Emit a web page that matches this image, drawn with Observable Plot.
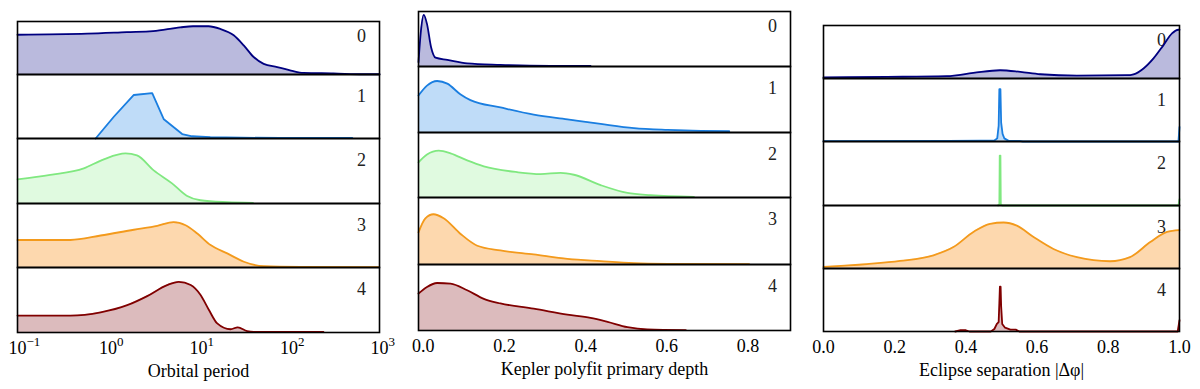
<!DOCTYPE html>
<html><head><meta charset="utf-8">
<script src="https://cdn.jsdelivr.net/npm/d3@7"></script>
<script src="https://cdn.jsdelivr.net/npm/@observablehq/plot@0.6"></script>
<style>
body{margin:0;background:#fff;}
#root{position:relative;width:1200px;height:389px;overflow:hidden;background:#fff;}
.cell{position:absolute;line-height:0;}
.cell svg, .cell svg text{font-family:"Liberation Serif","DejaVu Serif",serif !important;}
</style></head><body><div id="root"></div>
<script>
// ---------- data ----------
const rowLabels = ["0", "1", "2", "3", "4"];

// Panel 1: orbital period (log x) vs normalized density
const periodTicks = [0.1, 1, 10, 100, 1000];
const periodTickBase = "10";
const periodTickExponents = ["−1", "0", "1", "2", "3"];
const period0 = [[0.1,0.75],[0.59,0.77],[1.62,0.80],[3.16,0.82],[6.3,0.89],[8.7,0.91],[12.9,0.91],[17.4,0.86],[24.5,0.74],[31.6,0.55],[40.7,0.33],[52.5,0.20],[74,0.14],[105,0.075],[145,0.03],[309,0.02],[660,0.005],[1000,0.005]];
const period1 = [[0.73,0],[1.16,0.34],[1.93,0.68],[3.08,0.71],[4.14,0.30],[6.6,0.07],[8.5,0.035],[13.5,0.02],[30,0.012],[80,0.01],[200,0.01],[500,0.01]];
const period2 = [[0.1,0.37],[0.23,0.44],[0.54,0.54],[0.90,0.68],[1.56,0.77],[2.09,0.74],[3.2,0.51],[5.1,0.31],[7.4,0.12],[10.5,0.05],[20.7,0.02],[40,0.01]];
const period3 = [[0.1,0.43],[0.385,0.43],[0.83,0.50],[1.93,0.59],[3.5,0.65],[5.3,0.71],[7.2,0.66],[9.7,0.53],[13.6,0.35],[20.8,0.22],[31.7,0.09],[52.7,0.02],[135,0.01],[980,0.005]];
const period4 = [[0.1,0.26],[0.385,0.26],[0.83,0.31],[1.63,0.42],[2.71,0.56],[4.5,0.73],[6.05,0.78],[8.2,0.73],[10.5,0.58],[13.0,0.35],[16.1,0.14],[22.6,0.05],[27.2,0.08],[34.5,0.02],[40.9,0.01],[240,0.01]];

// Panel 2: Kepler polyfit primary depth vs normalized density
const depthTicks = [0, 0.2, 0.4, 0.6, 0.8];
const depthTickLabels = ["0.0", "0.2", "0.4", "0.6", "0.8"];
const depth0 = [[-0.012,0.08],[-0.006,0.65],[0.001,0.94],[0.009,0.77],[0.019,0.35],[0.030,0.16],[0.059,0.12],[0.108,0.055],[0.19,0.03],[0.314,0.012],[0.412,0.01]];
const depth1 = [[-0.012,0.56],[0.009,0.71],[0.034,0.78],[0.059,0.74],[0.091,0.58],[0.116,0.49],[0.19,0.38],[0.272,0.27],[0.355,0.20],[0.437,0.13],[0.519,0.067],[0.602,0.04],[0.684,0.025],[0.754,0.02]];
const depth2 = [[-0.012,0.54],[0.009,0.66],[0.038,0.72],[0.067,0.68],[0.108,0.57],[0.149,0.48],[0.231,0.39],[0.289,0.36],[0.338,0.38],[0.371,0.35],[0.437,0.19],[0.503,0.07],[0.560,0.035],[0.667,0.01]];
const depth3 = [[-0.012,0.48],[0.005,0.69],[0.025,0.75],[0.05,0.69],[0.091,0.46],[0.133,0.28],[0.19,0.21],[0.272,0.15],[0.355,0.085],[0.437,0.05],[0.519,0.02],[0.602,0.01],[0.803,0.005]];
const depth4 = [[-0.012,0.56],[0.009,0.66],[0.034,0.72],[0.067,0.71],[0.108,0.61],[0.149,0.48],[0.19,0.41],[0.272,0.33],[0.355,0.24],[0.412,0.19],[0.454,0.13],[0.503,0.05],[0.552,0.015],[0.647,0.005]];

// Panel 3: eclipse separation vs normalized density
const sepTicks = [0, 0.2, 0.4, 0.6, 0.8, 1.0];
const sepTickLabels = ["0.0", "0.2", "0.4", "0.6", "0.8", "1.0"];
const sep0 = [[0,0.02],[0.178,0.03],[0.347,0.045],[0.421,0.105],[0.496,0.156],[0.553,0.125],[0.609,0.08],[0.712,0.056],[0.852,0.062],[0.871,0.08],[0.899,0.19],[0.927,0.38],[0.955,0.63],[0.979,0.85],[0.997,0.92],[1.0,0.92]];
const sep1 = [[0,0.005],[0.35,0.01],[0.44,0.012],[0.48,0.015],[0.488,0.05],[0.492,0.25],[0.494,0.83],[0.497,0.83],[0.499,0.3],[0.503,0.12],[0.508,0.05],[0.52,0.01],[0.55,0.01],[0.56,0],[0.997,0],[1.0,0.23]];
const sep2 = [[0.49,0],[0.494,0.02],[0.495,0.78],[0.497,0.78],[0.498,0.02],[0.502,0],[0.997,0],[1.0,0.1]];
const sep3 = [[0,0.025],[0.122,0.07],[0.215,0.12],[0.309,0.21],[0.365,0.34],[0.421,0.58],[0.468,0.71],[0.506,0.73],[0.543,0.68],[0.59,0.50],[0.646,0.31],[0.712,0.18],[0.805,0.115],[0.861,0.18],[0.918,0.42],[0.965,0.58],[1.0,0.61]];
const sep4 = [[0.37,0],[0.385,0.02],[0.40,0.02],[0.41,0],[0.47,0],[0.48,0.04],[0.487,0.12],[0.492,0.15],[0.494,0.45],[0.4955,0.71],[0.4975,0.71],[0.499,0.4],[0.502,0.12],[0.51,0.06],[0.525,0.03],[0.54,0.03],[0.55,0],[0.995,0],[1.0,0.18]];

const axisLabels = ["Orbital period", "Kepler polyfit primary depth", "Eclipse separation |Δφ|"];

// ---------- styles / layout ----------
const lineColors = ["#000080", "#1a7ee0", "#80e880", "#f39a1c", "#800000"];
const fillColors = ["#babadd", "#bfdcf8", "#e0fae0", "#fdd8ae", "#dcbbbd"];
const layout = [
  {left: 17, right: 379, tops: [21, 74, 138, 203, 267], bottom: 332},
  {left: 418, right: 790, tops: [11, 66, 132, 197, 264], bottom: 330},
  {left: 823, right: 1179, tops: [25, 78, 141, 205, 268], bottom: 331}
];
const panels = [
  {rows: [period0, period1, period2, period3, period4], type: "log", domain: [0.1, 1000], ticks: periodTicks,
   base: periodTickBase, exponents: periodTickExponents,
   curves: ["monotone-x", "linear", "monotone-x", "monotone-x", "monotone-x"]},
  {rows: [depth0, depth1, depth2, depth3, depth4], type: "linear", domain: [-0.012, 0.905], ticks: depthTicks, labels: depthTickLabels,
   curves: ["monotone-x", "monotone-x", "monotone-x", "monotone-x", "monotone-x"]},
  {rows: [sep0, sep1, sep2, sep3, sep4], type: "linear", domain: [0, 1], ticks: sepTicks, labels: sepTickLabels,
   curves: ["monotone-x", "linear", "linear", "monotone-x", "linear"]}
];

const root = document.getElementById("root");
const FONT = "Liberation Serif, DejaVu Serif, serif";

function tickMarks(P) {
  if (P.exponents) {
    return [
      Plot.text(P.ticks, {x: d => d, text: () => P.base, frameAnchor: "bottom", dy: 16, dx: 0,
        lineAnchor: "middle", textAnchor: "middle", fontSize: 18, fill: "#000"}),
      Plot.text(P.ticks, {x: d => d, text: (d, i) => P.exponents[i], frameAnchor: "bottom", dy: 9, dx: 9,
        lineAnchor: "middle", textAnchor: "start", fontSize: 13, fill: "#000"})
    ];
  }
  return [
    Plot.text(P.ticks, {x: d => d, text: (d, i) => P.labels[i], frameAnchor: "bottom", dy: 16,
      lineAnchor: "middle", textAnchor: "middle", fontSize: 18, fill: "#000"})
  ];
}

panels.forEach((P, p) => {
  const L = layout[p];
  P.rows.forEach((data, r) => {
    const top = L.tops[r];
    const bot = r < 4 ? L.tops[r + 1] : L.bottom;
    const h = bot - top;
    const m = 2;
    const mB = r === 4 ? 56 : m;
    const chart = Plot.plot({
      width: L.right - L.left + 2 * m,
      height: h + m + mB,
      marginLeft: m, marginRight: m, marginTop: m, marginBottom: mB,
      style: {fontFamily: FONT, fontSize: "18px", background: "transparent", overflow: "visible", color: "#000"},
      x: {type: P.type, domain: P.domain, axis: null},
      y: {domain: [0, 1], axis: null},
      marks: [
        Plot.areaY(data, {x: d => d[0], y: d => d[1], fill: fillColors[r], curve: P.curves[r]}),
        Plot.text([rowLabels[r]], {text: d => d, frameAnchor: "top-right", dx: -18, dy: r === 0 ? 15 : 21.5,
          lineAnchor: "middle", textAnchor: "middle", fontSize: 18, fill: "#222"}),
        Plot.lineY(data, {x: d => d[0], y: d => d[1], stroke: lineColors[r], strokeWidth: 1.8, curve: P.curves[r]}),
        Plot.frame({stroke: "#000", strokeWidth: 1.6}),
        ...(r === 4 ? tickMarks(P) : []),
        r === 4 ? Plot.text([axisLabels[p]], {text: d => d, frameAnchor: "bottom", dy: 39, lineAnchor: "middle",
          textAnchor: "middle", fontSize: 18, fill: "#000"}) : null
      ]
    });
    const div = document.createElement("div");
    div.className = "cell";
    div.style.left = (L.left - m) + "px";
    div.style.top = (top - m) + "px";
    div.appendChild(chart);
    root.appendChild(div);
  });
});
</script>
</body></html>
